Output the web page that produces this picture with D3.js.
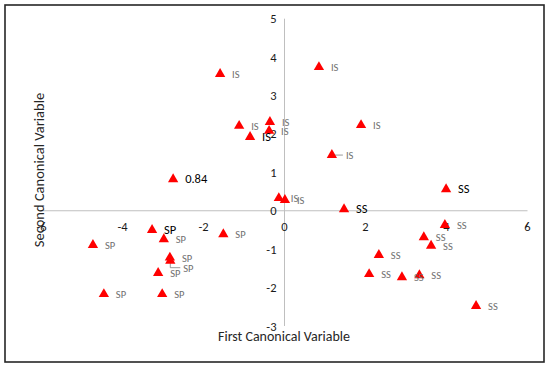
<!DOCTYPE html>
<html>
<head>
<meta charset="utf-8">
<script src="https://cdn.jsdelivr.net/npm/d3@7"></script>
<style>
  body { margin: 0; background: #fff; }
  svg text { font-family: Carlito, Calibri, "Open Sans", sans-serif; }
</style>
</head>
<body>
<div id="chart"></div>
<script>
// point labels, first and second canonical variable scores
const pointLabels = ["IS","IS","IS","IS","IS","IS","IS","IS","IS","IS",
  "0.84",
  "SS","SS","SS","SS","SS","SS","SS","SS","SS","SS",
  "SP","SP","SP","SP","SP","SP","SP","SP","SP"];
const firstVar = [-1.59, 0.85, -1.12, -0.36, -0.38, -0.85, 1.89, 1.17, -0.14, 0.01,
  -2.75,
  3.99, 1.47, 3.96, 3.44, 3.62, 2.33, 2.09, 2.90, 3.33, 4.73,
  -3.27, -2.98, -4.73, -1.51, -2.83, -2.82, -3.12, -4.46, -3.02];
const secondVar = [3.56, 3.74, 2.21, 2.31, 2.08, 1.92, 2.23, 1.45, 0.33, 0.28,
  0.82,
  0.56, 0.04, -0.37, -0.69, -0.91, -1.15, -1.65, -1.73, -1.68, -2.48,
  -0.50, -0.74, -0.89, -0.61, -1.22, -1.30, -1.62, -2.17, -2.17];

const xTicks = [-6, -4, -2, 0, 2, 4, 6];
const yTicks = [-3, -2, -1, 0, 1, 2, 3, 4, 5];

// labels drawn dark (the ones moved by hand in the original)
const darkLabels = [5, 10, 11, 12, 21];
// labels pulled away with a leader line
const leaderLabels = {7: {dx: 14, dy: 0}, 26: {dx: 13, dy: 7}};

const width = 550, height = 368;

const svg = d3.select("#chart")
  .append("svg")
  .attr("width", width)
  .attr("height", height);

svg.append("rect")
  .attr("x", 5).attr("y", 5)
  .attr("width", 539).attr("height", 357)
  .attr("fill", "#fff")
  .attr("stroke", "#262626")
  .attr("stroke-width", 1.6);

const xScale = d3.scaleLinear().domain([-6, 6]).range([41.5, 527.5]);
const yScale = d3.scaleLinear().domain([-3, 5]).range([326, 18.7]);

// axes cross at the origin
svg.append("line")
  .attr("x1", xScale(-6)).attr("x2", xScale(6))
  .attr("y1", yScale(0)).attr("y2", yScale(0))
  .attr("stroke", "#bfbfbf").attr("stroke-width", 1);
svg.append("line")
  .attr("x1", xScale(0)).attr("x2", xScale(0))
  .attr("y1", yScale(-3)).attr("y2", yScale(5))
  .attr("stroke", "#bfbfbf").attr("stroke-width", 1);

svg.selectAll(".xt")
  .data(xTicks)
  .enter()
  .append("text")
  .attr("x", d => xScale(d))
  .attr("y", yScale(0) + 20)
  .attr("text-anchor", "middle")
  .attr("font-size", 12.5)
  .attr("fill", "#1a1a1a")
  .text(d => d);

svg.selectAll(".yt")
  .data(yTicks)
  .enter()
  .append("text")
  .attr("x", xScale(0) - 8)
  .attr("y", d => yScale(d) + 4.5)
  .attr("text-anchor", "end")
  .attr("font-size", 12.5)
  .attr("fill", "#1a1a1a")
  .text(d => d);

svg.append("text")
  .attr("x", 284)
  .attr("y", 341)
  .attr("text-anchor", "middle")
  .attr("font-size", 14)
  .attr("fill", "#262626")
  .text("First Canonical Variable");

svg.append("text")
  .attr("transform", "translate(44,170) rotate(-90)")
  .attr("text-anchor", "middle")
  .attr("font-size", 14.5)
  .attr("fill", "#262626")
  .text("Second Canonical Variable");

const points = pointLabels.map((l, i) => ({label: l, x: firstVar[i], y: secondVar[i], i: i}));

// leader lines
Object.keys(leaderLabels).forEach(k => {
  const p = points[k], o = leaderLabels[k];
  const px = xScale(p.x), py = yScale(p.y);
  svg.append("polyline")
    .attr("points", [[px, py], [px, py + o.dy], [px + o.dx - 3, py + o.dy]].map(q => q.join(",")).join(" "))
    .attr("fill", "none")
    .attr("stroke", "#7f7f7f")
    .attr("stroke-width", 0.8);
});

svg.selectAll(".pt")
  .data(points)
  .enter()
  .append("path")
  .attr("d", d3.symbol(d3.symbolTriangle, 46))
  .attr("transform", d => `translate(${xScale(d.x)},${yScale(d.y)})`)
  .attr("fill", "#ff0000");

svg.selectAll(".lb")
  .data(points)
  .enter()
  .append("text")
  .attr("x", d => xScale(d.x) + (leaderLabels[d.i] ? leaderLabels[d.i].dx : 12))
  .attr("y", d => yScale(d.y) + (leaderLabels[d.i] ? leaderLabels[d.i].dy : 0) + 4)
  .attr("font-size", d => darkLabels.includes(d.i) ? 12.5 : 10.5)
  .attr("fill", d => darkLabels.includes(d.i) ? "#000" : "#707070")
  .text(d => d.label);
</script>
</body>
</html>
